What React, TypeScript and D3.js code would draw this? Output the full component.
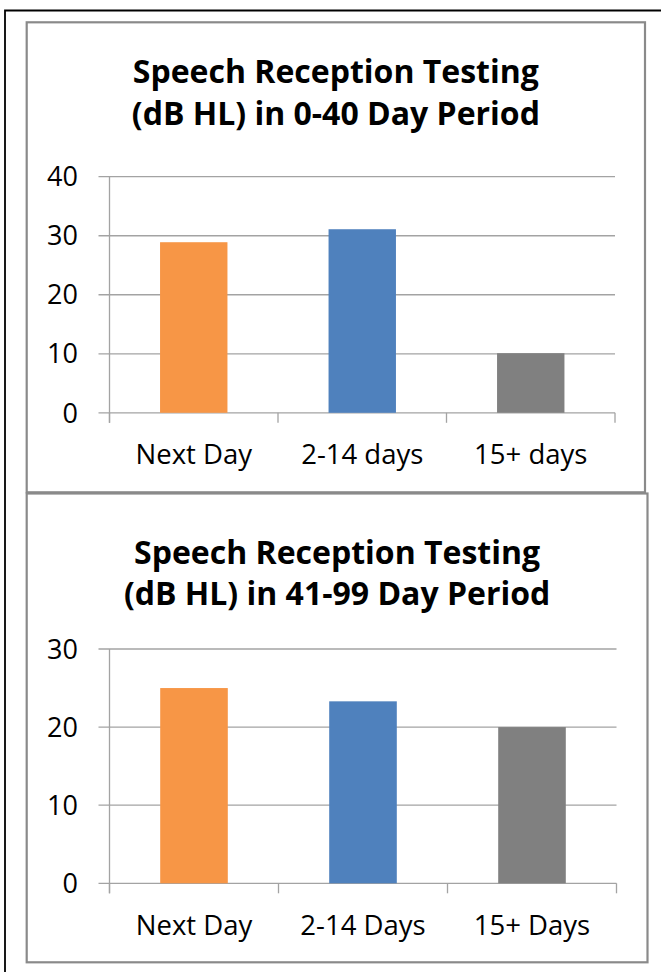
import React from "react";
import * as d3 from "d3";

const topCategories = ["Next Day", "2-14 days", "15+ days"];
const topValues = [28.9, 31.1, 10.1];
const topTicks = [0, 10, 20, 30, 40];
const topTitle = ["Speech Reception Testing", "(dB HL) in 0-40 Day Period"];

const bottomCategories = ["Next Day", "2-14 Days", "15+ Days"];
const bottomValues = [25, 23.3, 20];
const bottomTicks = [0, 10, 20, 30];
const bottomTitle = ["Speech Reception Testing", "(dB HL) in 41-99 Day Period"];

const barColors = ["#F79646", "#4F81BD", "#808080"];

const FONT = "'Open Sans', 'Lato', sans-serif";
const GRID = "#a3a3a3";

type PanelProps = {
  box: { x: number; y: number; w: number; h: number };
  titleLines: string[];
  titleY: number[];
  categories: string[];
  values: number[];
  ticks: number[];
  yMax: number;
  plot: { left: number; right: number; top: number; bottom: number };
  labelY: number;
};

function Panel({ box, titleLines, titleY, categories, values, ticks, yMax, plot, labelY }: PanelProps) {
  const x = d3
    .scaleBand<string>()
    .domain(categories)
    .range([plot.left, plot.right])
    .paddingInner(0.6)
    .paddingOuter(0.3);
  const y = d3.scaleLinear().domain([0, yMax]).range([plot.bottom, plot.top]);
  const step = x.step();
  const boundaries = d3.range(categories.length + 1).map((i) => plot.left + i * step);
  const cx = box.x + box.w / 2;
  return (
    <g>
      <rect x={box.x} y={box.y} width={box.w} height={box.h} fill="#fff" stroke="#8a8a8a" strokeWidth={2.2} />
      {titleLines.map((t, i) => (
        <text key={t} x={cx} y={titleY[i]} textAnchor="middle" fontFamily={FONT} fontWeight={700} fontSize={32} fill="#000">
          {t}
        </text>
      ))}
      {ticks.map((t) => (
        <g key={t}>
          <line x1={plot.left - 11} x2={plot.right} y1={y(t)} y2={y(t)} stroke={GRID} strokeWidth={1.3} />
          <text x={78} y={y(t)} dy="0.36em" textAnchor="end" fontFamily={FONT} fontSize={27} fill="#000">
            {t}
          </text>
        </g>
      ))}
      <line x1={plot.left} x2={plot.left} y1={y(yMax)} y2={plot.bottom + 10} stroke={GRID} strokeWidth={1.3} />
      {boundaries.map((b, i) => (
        <line key={i} x1={b} x2={b} y1={plot.bottom} y2={plot.bottom + 10} stroke={GRID} strokeWidth={1.3} />
      ))}
      {categories.map((c, i) => (
        <rect
          key={c}
          x={x(c)}
          y={y(values[i])}
          width={x.bandwidth()}
          height={y(0) - y(values[i])}
          fill={barColors[i]}
        />
      ))}
      {categories.map((c) => (
        <text
          key={c}
          x={(x(c) as number) + x.bandwidth() / 2}
          y={labelY}
          textAnchor="middle"
          fontFamily={FONT}
          fontSize={27.5}
          fill="#000"
        >
          {c}
        </text>
      ))}
    </g>
  );
}

export default function App() {
  return (
    <div style={{ position: "absolute", left: 0, top: 0 }}>
      <svg width={661} height={972} style={{ display: "block", background: "#fff" }}>
        <rect x={0} y={0} width={661} height={972} fill="#fff" />
        <path d="M5,975 L5,10.5 L664,10.5" fill="none" stroke="#000" strokeWidth={1.8} />
        <Panel
          box={{ x: 26.7, y: 22.3, w: 618.3, h: 470 }}
          titleLines={topTitle}
          titleY={[83, 124.5]}
          categories={topCategories}
          values={topValues}
          ticks={topTicks}
          yMax={40}
          plot={{ left: 109.5, right: 615, top: 176.7, bottom: 412.8 }}
          labelY={464}
        />
        <Panel
          box={{ x: 26.7, y: 493.5, w: 620.8, h: 468.8 }}
          titleLines={bottomTitle}
          titleY={[564, 604.5]}
          categories={bottomCategories}
          values={bottomValues}
          ticks={bottomTicks}
          yMax={30}
          plot={{ left: 109.5, right: 616.5, top: 649, bottom: 883.3 }}
          labelY={935}
        />
      </svg>
    </div>
  );
}
